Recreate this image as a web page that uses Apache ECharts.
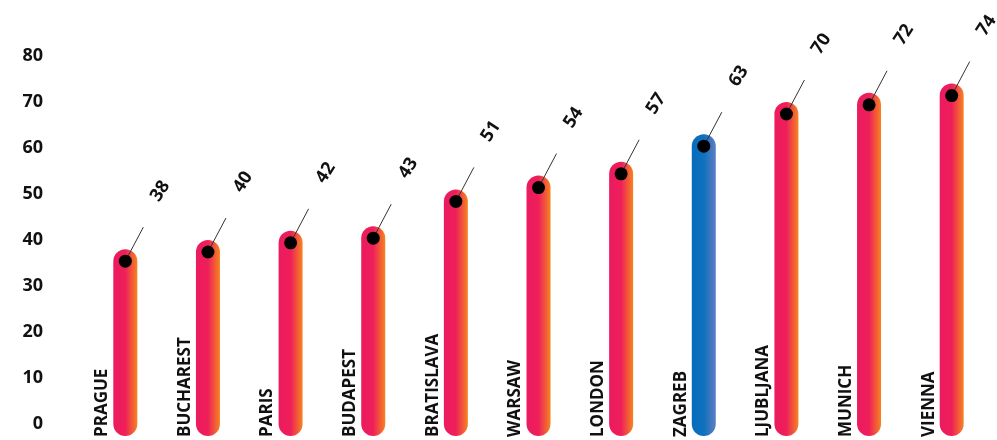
<!DOCTYPE html>
<html>
<head>
<meta charset="utf-8">
<script src="https://cdn.jsdelivr.net/npm/echarts@6/dist/echarts.min.js"></script>
<style>
html,body{margin:0;padding:0;background:#fff;}
#chart{width:997px;height:440px;}
</style>
</head>
<body>
<div id="chart"></div>
<script>
const cities = ['PRAGUE','BUCHAREST','PARIS','BUDAPEST','BRATISLAVA','WARSAW','LONDON','ZAGREB','LJUBLJANA','MUNICH','VIENNA'];
const values = [38, 40, 42, 43, 51, 54, 57, 63, 70, 72, 74];
const highlight = 'ZAGREB';
const yTicks = [0, 10, 20, 30, 40, 50, 60, 70, 80];

const FONT = '"Open Sans", "DejaVu Sans", sans-serif';
const warm = () => new echarts.graphic.LinearGradient(0, 0, 1, 0, [
  {offset: 0, color: '#EC1A5F'},
  {offset: 0.5, color: '#EE1F5A'},
  {offset: 1, color: '#F6841F'}
]);
const cool = () => new echarts.graphic.LinearGradient(0, 0, 1, 0, [
  {offset: 0, color: '#086CBC'},
  {offset: 0.5, color: '#0F70BD'},
  {offset: 1, color: '#5E7EC4'}
]);

const chart = echarts.init(document.getElementById('chart'), null, {renderer: 'canvas'});
chart.setOption({
  animation: false,
  backgroundColor: '#ffffff',
  grid: {left: 84, right: 4, top: 56, bottom: 16, containLabel: false},
  xAxis: {
    type: 'category',
    data: cities,
    axisLine: {show: false}, axisTick: {show: false}, axisLabel: {show: false}, splitLine: {show: false}
  },
  yAxis: {
    type: 'value',
    min: yTicks[0], max: yTicks[yTicks.length - 1], interval: 10,
    axisLine: {show: false}, axisTick: {show: false}, splitLine: {show: false},
    axisLabel: {
      margin: 41, color: '#111', fontSize: 18, fontWeight: 'bold', fontFamily: FONT
    }
  },
  series: [{
    type: 'custom',
    data: values.map((v, i) => [i, v]),
    clip: false,
    renderItem: function (params, api) {
      const idx = api.value(0);
      const val = api.value(1);
      const top = api.coord([idx, val]);
      const base = api.coord([idx, 0]);
      const cx = top[0];
      const half = 12;
      const bottom = base[1] + 12;
      const dotY = top[1] + half;
      const isHi = cities[idx] === highlight;
      return {
        type: 'group',
        children: [
          {
            type: 'rect',
            shape: {x: cx - half, y: top[1], width: half * 2, height: bottom - top[1], r: half},
            style: {fill: isHi ? cool() : warm()}
          },
          {
            type: 'line',
            shape: {x1: cx, y1: dotY, x2: cx + 18, y2: dotY - 34},
            style: {stroke: '#333', lineWidth: 1}
          },
          {
            type: 'circle',
            shape: {cx: cx, cy: dotY, r: 6.5},
            style: {fill: '#000'}
          },
          {
            type: 'text',
            x: cx + 35, y: dotY - 70,
            rotation: 57 * Math.PI / 180,
            style: {
              text: String(val), fill: '#111',
              font: 'bold 18px ' + FONT,
              textAlign: 'center', textVerticalAlign: 'middle'
            }
          },
          {
            type: 'text',
            x: cx - 23, y: base[1] + 13,
            rotation: Math.PI / 2,
            style: {
              text: cities[idx], fill: '#111',
              font: 'bold 17px ' + FONT,
              textAlign: 'left', textVerticalAlign: 'middle'
            }
          }
        ]
      };
    }
  }]
});
</script>
</body>
</html>
